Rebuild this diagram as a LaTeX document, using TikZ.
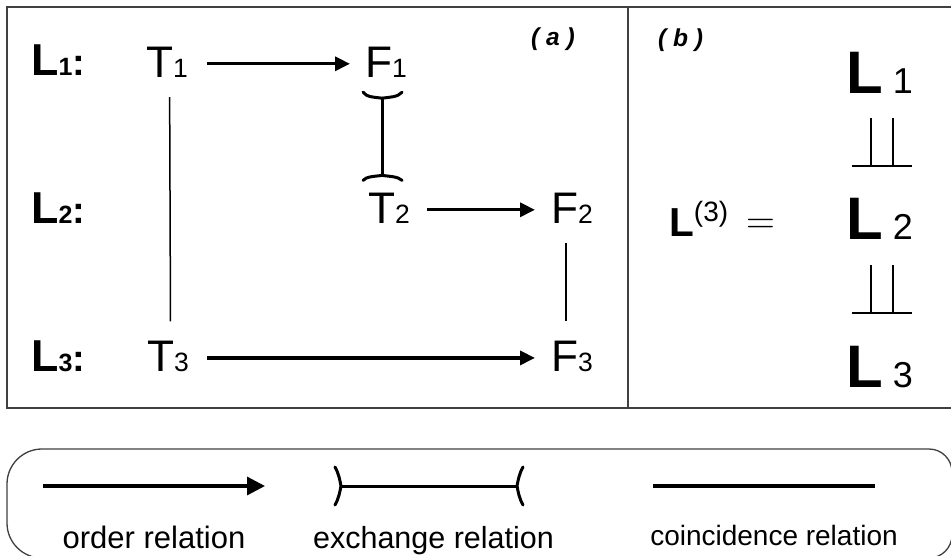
\documentclass[tikz,border=0pt]{standalone}
\usepackage{fontspec}
\setmainfont{Liberation Sans}
\newfontfamily\lmfont{Latin Modern Roman}
\usetikzlibrary{arrows.meta,calc}
\newcommand\rdig[1]{{\fontsize{26.5}{30}\selectfont #1}}
\begin{document}
\begin{tikzpicture}[x=1pt,y=-1pt,
  lab/.style={inner sep=0pt, anchor=base west, font=\fontsize{44.2}{50}\selectfont},
  rowlab/.style={inner sep=0pt, anchor=base west, font=\fontsize{44.7}{50}\selectfont\bfseries},
  panlab/.style={inner sep=0pt, anchor=base west, font=\fontsize{24.5}{28}\selectfont\bfseries\itshape},
  bigL/.style={inner sep=0pt, anchor=base west},
  legtext/.style={inner sep=0pt, anchor=base},
  frameline/.style={draw=black!75, line width=1.4pt},
  ordarrow/.style={line width=3.2pt, -{Triangle[length=15pt,width=14pt]}},
  legarrow/.style={line width=3.3pt, -{Triangle[length=18pt,width=18pt]}},
  coinc/.style={line width=1.5pt},
  exline/.style={line width=3pt, line cap=round},
  perp/.style={line width=2pt}
]
\useasboundingbox (0,0) rectangle (951,555);
\fill[white] (0,0) rectangle (951,555);

% frames
\draw[frameline] (7,7) rectangle (965,408);
\draw[frameline] (628,7) -- (628,408);

% panel labels
\node[panlab] (pa) at (531,45) {( a )};
\node[panlab] (pb) at (658,46) {( b )};

% row labels
\node[rowlab] (L1) at (31,75) {L{\fontsize{25}{30}\selectfont 1}{\fontsize{38}{40}\selectfont :}};
\node[rowlab] (L2) at (31,223) {L{\fontsize{25}{30}\selectfont 2}{\fontsize{38}{40}\selectfont :}};
\node[rowlab] (L3) at (31,371) {L{\fontsize{25}{30}\selectfont 3}{\fontsize{38}{40}\selectfont :}};

% T and F nodes
\node[lab] (T1) at (146,77) {T\rdig{1}};
\node[lab] (F1) at (365,77) {F\rdig{1}};
\node[lab] (T2) at (368,223) {T\rdig{2}};
\node[lab] (F2) at (551,223) {F\rdig{2}};
\node[lab] (T3) at (147,371) {T\rdig{3}};
\node[lab] (F3) at (551,371) {F\rdig{3}};

% order relations
\draw[ordarrow, shorten <=19pt, shorten >=15pt] ([yshift=-2pt]T1.east) -- ([yshift=-2pt]F1.west);
\draw[ordarrow, shorten <=17pt, shorten >=16pt] ([yshift=-2pt]T2.east) -- ([yshift=-2pt]F2.west);
\draw[ordarrow, shorten <=18pt, shorten >=16pt] ([yshift=-2pt]T3.east) -- ([yshift=-2pt]F3.west);

% coincidence relations
\draw[coinc, shorten <=20pt, shorten >=19pt] ([xshift=2.5pt]T1.south) -- ([xshift=2.5pt]T3.north);
\draw[coinc, shorten <=20pt, shorten >=19pt] ([xshift=-6pt]F2.south) -- ([xshift=-6pt]F3.north);

% exchange relation F1 -- T2
\coordinate (x1) at ([xshift=-4pt,yshift=-21pt]F1.south);
\coordinate (x2) at ([xshift=-7pt,yshift=17pt]T2.north);
\draw[exline] (x1) -- (x2);
\draw[exline] ($(x1)+(-19,-6)$) .. controls ($(x1)+(-16,-1)$) and ($(x1)+(-7,-1)$) .. (x1)
  .. controls ($(x1)+(7,-1)$) and ($(x1)+(16,-1)$) .. ($(x1)+(20,-6)$);
\draw[exline] ($(x2)+(-19,5)$) .. controls ($(x2)+(-16,1)$) and ($(x2)+(-7,1)$) .. (x2)
  .. controls ($(x2)+(7,1)$) and ($(x2)+(16,1)$) .. ($(x2)+(20,5)$);

% panel (b)
\node[inner sep=0pt, anchor=base west] (Lbig) at (669,236)
  {{\fontsize{40.5}{46}\selectfont\bfseries L}{\fontsize{28}{30}\selectfont\raisebox{15pt}{(3)}}};
\node[inner sep=0pt, anchor=base west, font=\fontsize{40}{46}\selectfont\lmfont] (eq) at (746,233) {=};
\node[bigL] (B1) at (846,93) {{\fontsize{60}{70}\selectfont\bfseries L}\hspace{10pt}{\fontsize{36}{40}\selectfont 1}};
\node[bigL] (B2) at (846,239) {{\fontsize{60}{70}\selectfont\bfseries L}\hspace{10pt}{\fontsize{36}{40}\selectfont 2}};
\node[bigL] (B3) at (846,387) {{\fontsize{60}{70}\selectfont\bfseries L}\hspace{10pt}{\fontsize{36}{40}\selectfont 3}};
% double perpendicular symbols
\draw[perp] (871,118) -- (871,166) (893,118) -- (893,166) (852,166) -- (912,166);
\draw[perp] (871,265) -- (871,313) (893,265) -- (893,313) (852,313) -- (912,313);

% legend box
\draw[draw=black!75, line width=1.3pt] (7,484) .. controls (7,464.7) and (22.7,449) .. (42,449)
  -- (929,449) .. controls (941.7,449) and (952,459.3) .. (952,472)
  -- (952,535) .. controls (952,547.7) and (941.7,558) .. (929,558)
  -- (42,558) .. controls (22.7,558) and (7,542.3) .. (7,523) -- cycle;

% legend items
\coordinate (la1) at (43,486);
\coordinate (la2) at (265,486);
\draw[legarrow] (la1) -- (la2);
\node[legtext, font=\fontsize{31}{34}\selectfont] (t1) at (154,548) {order relation};

\coordinate (le1) at (341,486);
\coordinate (le2) at (517,486);
\draw[exline] (le1) -- (le2);
\draw[exline] ($(le1)+(-6,-19)$) .. controls ($(le1)+(-2,-12)$) and ($(le1)+(-1,-5)$) .. (le1)
  .. controls ($(le1)+(-1,5)$) and ($(le1)+(-2,12)$) .. ($(le1)+(-6,19)$);
\draw[exline] ($(le2)+(6,-19)$) .. controls ($(le2)+(2,-12)$) and ($(le2)+(1,-5)$) .. (le2)
  .. controls ($(le2)+(1,5)$) and ($(le2)+(2,12)$) .. ($(le2)+(6,19)$);
\node[legtext, font=\fontsize{30.5}{34}\selectfont] (t2) at (433.5,548) {exchange relation};

\coordinate (lc1) at (653,486);
\coordinate (lc2) at (875,486);
\draw[line width=3.3pt] (lc1) -- (lc2);
\node[legtext, font=\fontsize{28}{32}\selectfont] (t3) at (774,545) {coincidence relation};
\end{tikzpicture}
\end{document}
